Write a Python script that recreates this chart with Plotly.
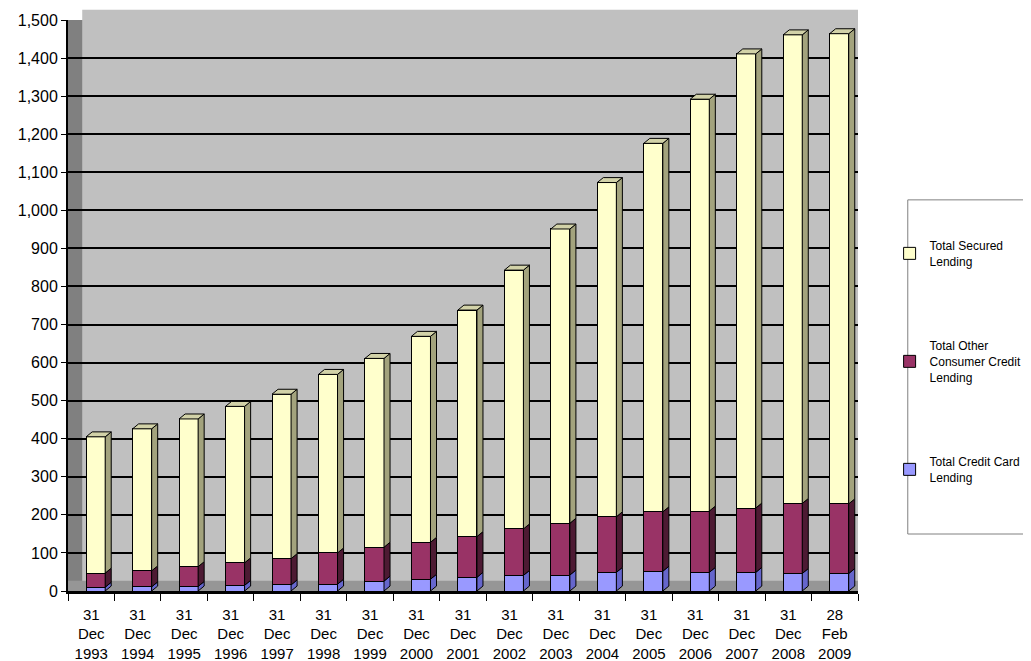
import plotly.graph_objects as go

dates = ["31<br>Dec<br>1993", "31<br>Dec<br>1994", "31<br>Dec<br>1995", "31<br>Dec<br>1996",
         "31<br>Dec<br>1997", "31<br>Dec<br>1998", "31<br>Dec<br>1999", "31<br>Dec<br>2000",
         "31<br>Dec<br>2001", "31<br>Dec<br>2002", "31<br>Dec<br>2003", "31<br>Dec<br>2004",
         "31<br>Dec<br>2005", "31<br>Dec<br>2006", "31<br>Dec<br>2007", "31<br>Dec<br>2008",
         "28<br>Feb<br>2009"]
credit_card = [10, 11, 12, 15, 16, 18, 26, 31, 36, 41, 42, 49, 52, 49, 49, 46, 46]
other_consumer = [37, 42, 52, 59, 69, 82, 89, 97, 107, 122, 136, 146, 156, 161, 169, 184, 183]
secured = [358, 373, 388, 411, 432, 469, 496, 541, 595, 680, 773, 878, 968, 1082, 1193, 1231, 1235]

pos = list(range(len(dates)))
bar_off = -0.11
bar_w = 0.41
dx = 0.13   # depth of the fake 3d faces, x units
dy = 13     # depth of the fake 3d faces, y units

series = [
    ("Total Credit Card<br>Lending", credit_card, "#9999FF", "#6666CC"),
    ("Total Other<br>Consumer Credit<br>Lending", other_consumer, "#993366", "#4D1A33"),
    ("Total Secured<br>Lending", secured, "#FFFFCC", "#A3A37D"),
]

fig = go.Figure()
shapes = []
# walls / floor of the 3d box
shapes.append(dict(type="rect", xref="paper", yref="paper", x0=0.018, x1=1, y0=1, y1=1.018,
                   fillcolor="#C0C0C0", line_width=0, layer="below"))
shapes.append(dict(type="rect", xref="paper", yref="paper", x0=0, x1=0.018, y0=0, y1=1,
                   fillcolor="#808080", line_width=0, layer="below"))
shapes.append(dict(type="rect", xref="paper", yref="paper", x0=0, x1=1, y0=0, y1=0.018,
                   fillcolor="#969696", line_width=0, layer="below"))

base = [0] * len(pos)
for i, (name, vals, col, side) in enumerate(series):
    fig.add_trace(go.Bar(
        x=pos, y=vals, name=name, legendgroup=name, legendrank=len(series) - i,
        marker=dict(color=col, line=dict(color="black", width=1)),
        width=bar_w, offset=bar_off,
    ))
    for j, v in enumerate(vals):
        x1 = pos[j] + bar_off + bar_w
        x0 = pos[j] + bar_off
        b, t = base[j], base[j] + v
        shapes.append(dict(
            type="path", xref="x", yref="y",
            path=f"M {x1},{b} L {x1+dx},{b+dy} L {x1+dx},{t+dy} L {x1},{t} Z",
            fillcolor=side, line=dict(color="black", width=1), layer="above"))
        if i == len(series) - 1:
            shapes.append(dict(
                type="path", xref="x", yref="y",
                path=f"M {x0},{t} L {x0+dx},{t+dy} L {x1+dx},{t+dy} L {x1},{t} Z",
                fillcolor="#D2D2A8", line=dict(color="black", width=1), layer="above"))
        base[j] = t

# legend frame
shapes.append(dict(type="rect", xref="paper", yref="paper", x0=1.063, x1=1.25, y0=0.0998, y1=0.685,
                   line=dict(color="#808080", width=1), fillcolor="white", layer="below"))

# the page adds an 8px body margin, so the figure is a bit smaller than the window
fig.update_layout(
    width=1023, height=653,
    margin=dict(l=60, r=173, t=12, b=70, autoexpand=False),
    paper_bgcolor="white", plot_bgcolor="#C0C0C0",
    barmode="stack",
    font=dict(family="Liberation Sans, Arial, sans-serif", color="black"),
    shapes=shapes,
    legend=dict(
        x=1.040, y=0.630, xanchor="left", yanchor="top",
        traceorder="grouped", tracegroupgap=66,
        font=dict(size=12), bgcolor="rgba(0,0,0,0)",
    ),
    showlegend=True,
)
fig.update_yaxes(
    range=[0, 1500], dtick=100, tickformat=",", automargin=False,
    showgrid=True, gridcolor="black", gridwidth=1.5,
    showline=True, linecolor="black", linewidth=2,
    ticks="outside", ticklen=5, tickcolor="black",
    tickfont=dict(size=16), zeroline=False,
)
fig.update_xaxes(
    range=[-0.5, 16.5], tickmode="array", tickvals=pos, ticktext=dates, automargin=False,
    showgrid=False, showline=True, linecolor="black", linewidth=2.5,
    ticks="", tickfont=dict(size=15), ticklabelstandoff=8,
    minor=dict(tick0=-0.5, dtick=1, ticks="outside", ticklen=7, tickcolor="black", showgrid=False),
)

fig.write_html("out.html")
